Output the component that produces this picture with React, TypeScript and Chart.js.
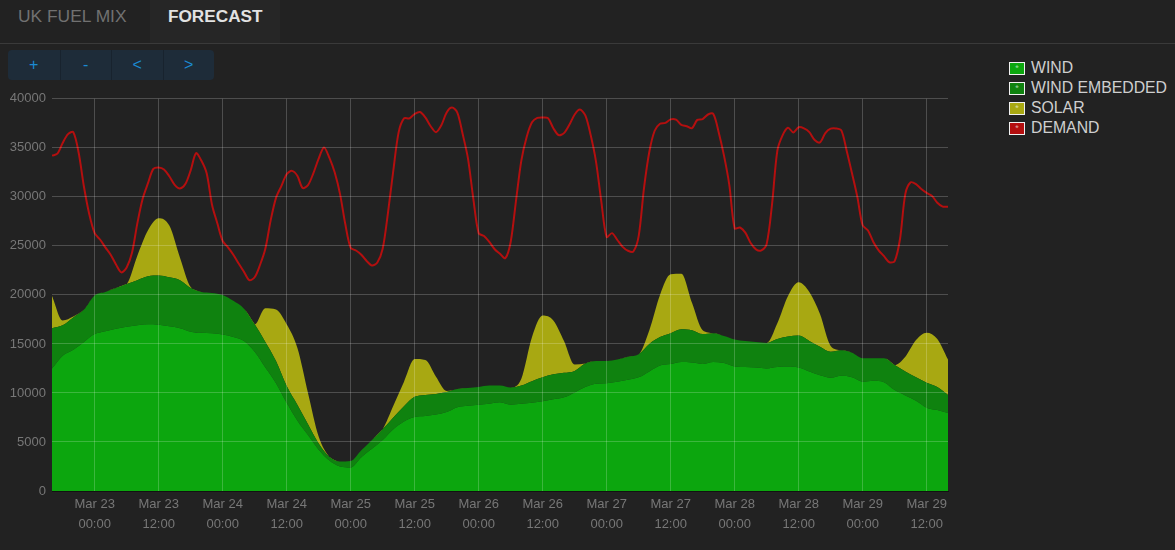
import React, { useEffect, useRef } from "react";
import { Chart, registerables } from "chart.js";

Chart.register(...registerables);

const FONT = '"Liberation Sans", Arial, Helvetica, sans-serif';

// Hours relative to Mar 23 00:00
const HOURS = [
  -8, -6, -4, -2, 0, 2, 4, 6, 8, 10, 12, 14, 16, 18, 20, 22, 24, 26, 28, 30,
  32, 34, 36, 38, 40, 42, 44, 46, 48, 50, 52, 54, 56, 58, 60, 62, 64, 66, 68, 70,
  72, 74, 76, 78, 80, 82, 84, 86, 88, 90, 92, 94, 96, 98, 100, 102, 104, 106, 108, 110,
  112, 114, 116, 118, 120, 122, 124, 126, 128, 130, 132, 134, 136, 138, 140, 142, 144, 146, 148, 150,
  152, 154, 156, 158, 160,
];

const WIND = [
  12500, 13800, 14400, 15200, 16000, 16300, 16550, 16750, 16900, 17000, 16950, 16800, 16600, 16250, 16150, 16100, 15950, 15700, 15300, 14200,
  12600, 11000, 9000, 7200, 5700, 4200, 3100, 2500, 2400, 3450, 4300, 5200, 6300, 7100, 7550, 7650, 7800, 8050, 8550, 8700,
  8800, 8900, 9050, 8800, 8900, 9000, 9150, 9350, 9550, 10050, 10600, 10950, 11000, 11150, 11350, 11600, 12200, 12800, 12950, 13150,
  13100, 12950, 13150, 13050, 12700, 12650, 12600, 12500, 12650, 12700, 12600, 12200, 11800, 11550, 11750, 11600, 11150, 11250, 11100, 10300,
  9750, 9200, 8500, 8250, 7950,
];

const WIND_EMBEDDED = [
  4100, 3100, 3300, 3300, 3950, 4000, 4150, 4350, 4600, 4900, 5030, 5000, 4900, 4450, 4150, 4100, 4050, 3700, 3300, 2800,
  2600, 2250, 1700, 1600, 1100, 650, 400, 500, 650, 700, 900, 1100, 1200, 1550, 2050, 2150, 2100, 2050, 1850, 1800,
  1800, 1850, 1700, 1750, 1850, 2200, 2450, 2550, 2500, 2200, 2400, 2300, 2260, 2250, 2350, 2350, 2800, 2900, 3150, 3350,
  3300, 3050, 2950, 2750, 2750, 2650, 2600, 2600, 2850, 3050, 3250, 3100, 2900, 2650, 2600, 2500, 2400, 2300, 2450, 2550,
  2450, 2400, 2550, 2350, 1850,
];

const SOLAR = [
  3300, 500, 100, 0, 0, 0, 0, 0, 2500, 4700, 5850, 5270, 2300, 100, 0, 0, 0, 0, 0, 0,
  3450, 5250, 6300, 5800, 3200, 700, 0, 0, 0, 0, 0, 0, 1200, 2500, 3850, 3550, 1750, 100, 0, 0,
  0, 0, 0, 0, 700, 4500, 6300, 5500, 3250, 650, 0, 0, 0, 0, 0, 0, 1400, 4300, 6000, 5650,
  2800, 400, 0, 0, 0, 0, 0, 0, 1600, 4150, 5450, 5000, 3350, 600, 0, 0, 0, 0, 0, 0,
  1500, 3800, 5100, 4900, 3600,
];

const DEMAND_HOURS = [
  -8, -7, -6, -5, -4, -3, -2, -1, 0, 1, 2, 3, 4, 5, 6, 7, 8, 9, 10, 11,
  12, 13, 14, 15, 16, 17, 18, 19, 20, 21, 22, 23, 24, 25, 26, 27, 28, 29, 30, 31,
  32, 33, 34, 35, 36, 37, 38, 39, 40, 41, 42, 43, 44, 45, 46, 47, 48, 49, 50, 51,
  52, 53, 54, 55, 56, 57, 58, 59, 60, 61, 62, 63, 64, 65, 66, 67, 68, 69, 70, 71,
  72, 73, 74, 75, 76, 77, 78, 79, 80, 81, 82, 83, 84, 85, 86, 87, 88, 89, 90, 91,
  92, 93, 94, 95, 96, 97, 98, 99, 100, 101, 102, 103, 104, 105, 106, 107, 108, 109, 110, 111,
  112, 113, 114, 115, 116, 117, 118, 119, 120, 121, 122, 123, 124, 125, 126, 127, 128, 129, 130, 131,
  132, 133, 134, 135, 136, 137, 138, 139, 140, 141, 142, 143, 144, 145, 146, 147, 148, 149, 150, 151,
  152, 153, 154, 155, 156, 157, 158, 159, 160,
];

const DEMAND = [
  34200, 34400, 35500, 36400, 36600, 34500, 31000, 28200, 26300, 25650, 24850, 24100, 23100, 22300, 22800, 24300, 27300, 29800, 31400, 32850,
  33000, 32800, 32100, 31220, 30850, 31300, 32700, 34450, 33700, 32400, 29200, 27300, 25500, 24850, 24100, 23200, 22350, 21500, 21800, 23050,
  24700, 27600, 29900, 31100, 32300, 32650, 32150, 30900, 31200, 32400, 33900, 35040, 34000, 32500, 30300, 27200, 24800, 24530, 24100, 23450,
  23000, 23300, 24700, 28400, 32700, 36600, 38000, 38000, 38450, 38650, 38100, 37200, 36600, 37300, 38600, 39100, 38600, 36400, 33900, 29800,
  26300, 26000, 25400, 24660, 24200, 23750, 25400, 29600, 33700, 36100, 37600, 38050, 38100, 38030, 37000, 36300, 36500, 37350, 38400, 38900,
  38300, 36300, 33600, 29500, 25900, 26300, 25600, 24900, 24500, 24430, 26000, 30900, 34600, 36740, 37450, 37540, 37900, 37870, 37350, 37200,
  37000, 37850, 37930, 38400, 38450, 36600, 34200, 31200, 26800, 26870, 26350, 25300, 24650, 24550, 25200, 29200, 34700, 36300, 37050, 36570,
  37100, 36980, 36600, 35800, 35550, 36500, 36950, 36980, 36780, 34700, 32400, 30000, 27100, 26570, 25400, 24550, 23950, 23330, 23450, 25700,
  30300, 31480, 31300, 30800, 30400, 30100, 29400, 29000, 29000,
];

const TICK_HOURS = [0, 12, 24, 36, 48, 60, 72, 84, 96, 108, 120, 132, 144, 156];
const MONTH = "Mar";
const FIRST_DAY = 23;
const Y_TICKS = [0, 5000, 10000, 15000, 20000, 25000, 30000, 35000, 40000];

const SERIES = [
  { label: "WIND", color: "#0ca60e" },
  { label: "WIND EMBEDDED", color: "#0f820f" },
  { label: "SOLAR", color: "#a8a812" },
  { label: "DEMAND", color: "#b40f0f" },
];

const TABS = ["UK FUEL MIX", "FORECAST"];
const BUTTONS = ["+", "-", "<", ">"];

const GRID = "rgba(255,255,255,0.2)";

export default function App() {
  const ref = useRef<HTMLCanvasElement>(null);

  useEffect(() => {
    document.body.style.margin = "0";
    document.body.style.background = "#222222";
    const pts = (vals: number[], hrs: number[]) => vals.map((y, i) => ({ x: hrs[i], y }));
    const chart = new Chart(ref.current as HTMLCanvasElement, {
      type: "line",
      data: {
        datasets: [
          {
            label: "DEMAND",
            data: pts(DEMAND, DEMAND_HOURS),
            borderColor: SERIES[3].color,
            borderWidth: 2,
            pointRadius: 0,
            fill: false,
            stack: "demand",
            order: 0,
            tension: 0.3,
          },
          {
            label: "WIND",
            data: pts(WIND, HOURS),
            backgroundColor: SERIES[0].color,
            borderColor: "transparent",
            borderWidth: 0,
            pointRadius: 0,
            fill: "origin",
            stack: "gen",
            order: 1,
            cubicInterpolationMode: "monotone",
          },
          {
            label: "WIND EMBEDDED",
            data: pts(WIND_EMBEDDED, HOURS),
            backgroundColor: SERIES[1].color,
            borderColor: "transparent",
            borderWidth: 0,
            pointRadius: 0,
            fill: "-1",
            stack: "gen",
            order: 1,
            cubicInterpolationMode: "monotone",
          },
          {
            label: "SOLAR",
            data: pts(SOLAR, HOURS),
            backgroundColor: SERIES[2].color,
            borderColor: "transparent",
            borderWidth: 0,
            pointRadius: 0,
            fill: "-1",
            stack: "gen",
            order: 1,
            cubicInterpolationMode: "monotone",
          },
        ] as any,
      },
      options: {
        responsive: false,
        maintainAspectRatio: false,
        animation: false,
        devicePixelRatio: 1,
        layout: { padding: { top: 7, right: 12, bottom: 0, left: 0 } },
        plugins: { legend: { display: false }, tooltip: { enabled: false } },
        scales: {
          x: {
            type: "linear",
            min: -8,
            max: 160,
            afterBuildTicks: (s: any) => {
              s.ticks = TICK_HOURS.map((v) => ({ value: v }));
            },
            afterFit: (s: any) => {
              s.height = 54;
            },
            grid: { color: GRID, drawTicks: false, z: 1 },
            border: { display: true, color: "rgba(0,0,0,0.45)", z: 2 },
            ticks: {
              autoSkip: false,
              maxRotation: 0,
              color: "#777777",
              padding: 3,
              font: { family: FONT, size: 13, lineHeight: 1.54 },
              callback: (v: any) => {
                const h = Number(v);
                const day = FIRST_DAY + Math.floor(h / 24);
                const hh = ((h % 24) + 24) % 24;
                return [`${MONTH} ${day}`, `${String(hh).padStart(2, "0")}:00`];
              },
            },
          },
          y: {
            stacked: true,
            min: 0,
            max: 40000,
            afterBuildTicks: (s: any) => {
              s.ticks = Y_TICKS.map((v) => ({ value: v }));
            },
            afterFit: (s: any) => {
              s.width = 52;
            },
            grid: {
              color: (c: any) => (c.tick && c.tick.value === 0 ? "transparent" : GRID),
              drawTicks: false,
              z: 1,
            },
            border: { display: false },
            ticks: {
              color: "#777777",
              padding: 6,
              font: { family: FONT, size: 13 },
              callback: (v: any) => String(v),
            },
          },
        },
      } as any,
    });
    return () => chart.destroy();
  }, []);

  return (
    <div
      style={{
        position: "relative",
        width: 1175,
        height: 550,
        background: "#222222",
        overflow: "hidden",
        fontFamily: FONT,
      }}
    >
      {/* header tabs */}
      <div
        style={{
          position: "absolute",
          left: 0,
          top: 0,
          width: 1175,
          height: 43,
          borderBottom: "1px solid #3a3a3a",
        }}
      />
      <div style={{ position: "absolute", left: 150, top: 0, width: 130, height: 43, background: "#262626" }} />
      <div
        style={{
          position: "absolute",
          left: 18,
          top: 6,
          lineHeight: "20px",
          fontSize: 17.4,
          color: "#717171",
          whiteSpace: "nowrap",
        }}
      >
        {TABS[0]}
      </div>
      <div
        style={{
          position: "absolute",
          left: 168,
          top: 6,
          lineHeight: "20px",
          fontSize: 17.2,
          fontWeight: "bold",
          color: "#e2e2e2",
          whiteSpace: "nowrap",
        }}
      >
        {TABS[1]}
      </div>

      {/* buttons */}
      <div
        style={{
          position: "absolute",
          left: 8,
          top: 50,
          width: 206,
          height: 30,
          borderRadius: 4,
          background: "#1e2c39",
          display: "flex",
          overflow: "hidden",
        }}
      >
        {BUTTONS.map((b, i) => (
          <div
            key={b}
            style={{
              width: 51.5,
              height: 30,
              lineHeight: "29px",
              textAlign: "center",
              fontSize: 16,
              color: "#1b8ad2",
              borderLeft: i === 0 ? "none" : "1px solid #18232e",
              boxSizing: "border-box",
            }}
          >
            {b}
          </div>
        ))}
      </div>

      {/* legend */}
      {SERIES.map((s, i) => (
        <div
          key={s.label}
          style={{
            position: "absolute",
            left: 1009,
            top: 58 + i * 20,
            height: 20,
            display: "flex",
            alignItems: "center",
            whiteSpace: "nowrap",
          }}
        >
          <div
            style={{
              width: 14,
              height: 11,
              border: "1px solid #f0f0f0",
              background: s.color,
              color: "rgba(255,255,255,0.6)",
              fontSize: 9,
              lineHeight: "11px",
              textAlign: "center",
            }}
          >
            *
          </div>
          <div style={{ marginLeft: 6, fontSize: 15.8, color: "#cfcfcf", lineHeight: "20px" }}>{s.label}</div>
        </div>
      ))}

      <canvas
        ref={ref}
        width={960}
        height={460}
        style={{ position: "absolute", left: 0, top: 85, width: 960, height: 460 }}
      />
    </div>
  );
}
